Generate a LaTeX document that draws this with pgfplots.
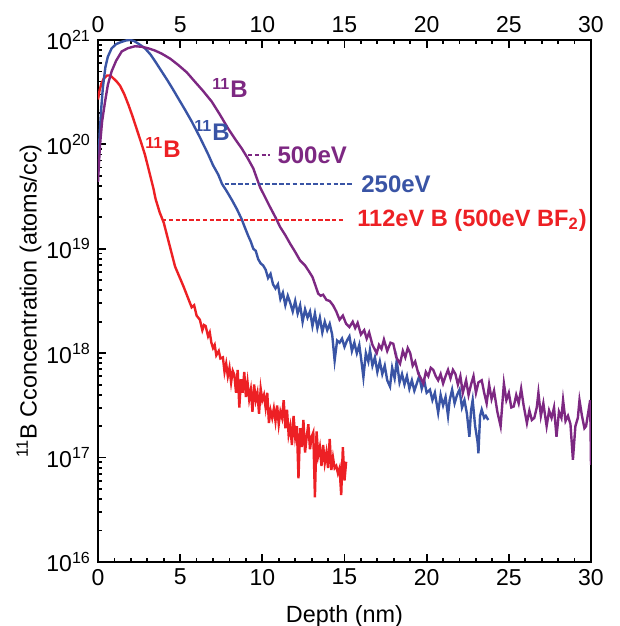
\documentclass[border=0pt]{standalone}
\usepackage{fontspec}
\setmainfont{Liberation Sans}
\usepackage{pgfplots}
\pgfplotsset{compat=1.18}

\definecolor{cred}{RGB}{237,32,36}
\definecolor{cblue}{RGB}{57,84,165}
\definecolor{cpurple}{RGB}{125,40,130}

\pgfplotstableread{
x y
0.0 2.69e20
0.1 3.31e20
0.2 3.80e20
0.35 4.27e20
0.55 4.57e20
0.75 4.57e20
0.95 4.27e20
1.15 3.98e20
1.35 3.63e20
1.6 3.02e20
1.85 2.40e20
2.1 1.86e20
2.35 1.41e20
2.6 1.07e20
2.86 7.94e19
3.1 5.62e19
3.37 3.80e19
3.5 3.02e19
3.75 2.24e19
4.0 1.78e19
4.28 1.20e19
4.69 6.76e18
5.2 4.37e18
5.5 3.31e18
5.7 2.75e18
5.85 2.88e18
6.0 2.29e18
6.2 2.09e18
6.35 1.66e18
6.45 1.86e18
6.55 1.82e18
6.7 1.45e18
6.8 1.58e18
6.9 1.26e18
7.0 1.12e18
7.1 1.20e18
7.2 9.55e17
7.35 1.05e18
7.45 8.91e17
7.6 9.12e17
7.7 6.61e17
7.8 7.94e17
7.9 6.03e17
8.0 7.24e17
8.1 5.25e17
8.2 6.76e17
8.3 6.17e17
8.4 4.17e17
8.5 6.92e17
8.6 3.02e17
8.7 5.62e17
8.8 4.17e17
8.9 6.61e17
9.0 3.80e17
9.1 5.25e17
9.2 3.63e17
9.3 4.47e17
9.4 2.75e17
9.5 5.01e17
9.6 3.55e17
9.7 4.17e17
9.8 2.63e17
9.9 4.57e17
10.0 3.55e17
10.1 3.98e17
10.2 3.02e17
10.3 4.17e17
10.4 2.14e17
10.5 2.82e17
10.6 2.40e17
10.7 2.95e17
10.8 2.24e17
10.9 3.16e17
11.0 2.09e17
11.1 2.75e17
11.2 2.40e17
11.3 3.55e17
11.4 1.91e17
11.5 2.88e17
11.6 1.66e17
11.7 2.00e17
11.8 1.32e17
11.9 2.51e17
12.0 1.58e17
12.1 2.00e17
12.2 6.31e16
12.3 1.91e17
12.4 1.26e17
12.5 2.29e17
12.6 1.12e17
12.7 1.58e17
12.8 2.09e17
12.9 1.20e17
13.0 1.58e17
13.1 1.74e17
13.2 4.17e16
13.3 1.78e17
13.4 1.05e17
13.5 1.26e17
13.6 8.32e16
13.7 1.32e17
13.8 8.91e16
13.9 1.12e17
14.0 7.94e16
14.1 1.51e17
14.2 7.59e16
14.3 1.00e17
14.4 7.94e16
14.5 8.32e16
14.6 7.08e16
14.7 7.94e16
14.8 4.37e16
14.9 1.26e17
15.0 6.03e16
15.1 9.12e16
}\redtab

\pgfplotstableread{
x y
0.0 5.25e19
0.1 1.26e20
0.2 2.24e20
0.3 3.55e20
0.45 5.50e20
0.6 6.92e20
0.83 8.32e20
1.1 9.12e20
1.4 9.55e20
1.7 9.89e20
1.95 1.00e21
2.2 9.77e20
2.5 9.12e20
2.86 8.32e20
3.2 7.24e20
3.5 6.17e20
3.87 5.01e20
4.2 4.17e20
4.55 3.39e20
4.89 2.75e20
5.3 2.14e20
5.7 1.66e20
6.2 1.17e20
6.72 7.94e19
7.0 6.31e19
7.32 5.13e19
7.55 4.17e19
7.8 3.63e19
8.14 2.95e19
8.45 2.40e19
8.75 1.91e19
8.95 1.58e19
9.15 1.32e19
9.3 1.17e19
9.45 1.00e19
9.6 9.55e18
9.75 7.94e18
9.9 7.24e18
10.05 6.92e18
10.2 6.31e18
10.35 5.25e18
10.5 5.75e18
10.65 4.57e18
10.8 4.17e18
10.95 4.57e18
11.1 3.31e18
11.25 3.80e18
11.4 2.88e18
11.55 3.55e18
11.7 3.02e18
11.85 2.51e18
12.0 3.16e18
12.15 2.40e18
12.3 2.88e18
12.45 2.00e18
12.6 2.63e18
12.75 2.19e18
12.9 2.51e18
13.05 1.82e18
13.2 2.40e18
13.35 1.74e18
13.5 2.19e18
13.65 1.58e18
13.8 2.00e18
13.95 1.66e18
14.1 1.91e18
14.25 1.51e18
14.4 8.51e17
14.55 1.32e18
14.7 1.26e18
14.85 1.38e18
15.0 1.15e18
15.15 1.32e18
15.3 1.45e18
15.45 1.05e18
15.6 1.26e18
15.75 1.00e18
15.9 1.20e18
16.05 7.94e17
16.15 5.89e17
16.3 1.00e18
16.45 8.32e17
16.55 1.07e18
16.7 7.59e17
16.85 9.12e17
17.0 6.61e17
17.15 8.32e17
17.3 6.31e17
17.45 7.59e17
17.6 5.50e17
17.77 4.79e17
17.9 7.24e17
18.05 5.75e17
18.18 8.51e17
18.35 5.25e17
18.5 6.31e17
18.65 5.01e17
18.8 6.03e17
18.95 4.57e17
19.1 5.50e17
19.25 4.37e17
19.4 5.13e17
19.55 6.03e17
19.7 4.57e17
19.85 5.50e17
20.0 4.17e17
20.2 4.47e17
20.35 3.55e17
20.5 4.17e17
20.7 2.69e17
20.85 3.98e17
21.0 3.16e17
21.15 3.80e17
21.3 2.51e17
21.4 3.55e17
21.55 4.47e17
21.7 3.31e17
21.85 3.98e17
22.0 4.47e17
22.15 3.02e17
22.3 3.55e17
22.45 2.63e17
22.6 1.58e17
22.7 2.82e17
22.8 3.55e17
22.95 2.00e17
23.1 1.41e17
23.15 1.10e17
23.25 2.51e17
23.35 2.88e17
23.5 2.40e17
23.6 2.51e17
23.75 2.29e17
}\bluetab

\pgfplotstableread{
x y
0.0 4.37e19
0.06 6.61e19
0.12 9.77e19
0.25 1.66e20
0.43 2.57e20
0.6 3.72e20
0.83 5.01e20
1.1 6.31e20
1.44 7.76e20
1.8 8.32e20
2.25 8.71e20
2.65 8.61e20
3.06 8.32e20
3.45 7.94e20
3.87 7.41e20
4.4 6.61e20
4.89 5.75e20
5.4 4.90e20
5.9 3.98e20
6.4 3.24e20
6.92 2.57e20
7.4 1.95e20
7.93 1.41e20
8.35 1.12e20
8.75 9.12e19
9.1 7.41e19
9.45 5.89e19
9.86 3.89e19
10.15 3.16e19
10.47 2.51e19
10.8 2.00e19
11.08 1.62e19
11.4 1.35e19
11.69 1.12e19
12.0 9.33e18
12.29 7.76e18
12.6 6.92e18
12.85 6.03e18
13.05 5.37e18
13.25 4.37e18
13.4 3.72e18
13.55 3.55e18
13.7 3.63e18
13.9 3.24e18
14.1 3.16e18
14.3 2.88e18
14.5 2.51e18
14.7 2.09e18
14.9 2.29e18
15.1 1.91e18
15.3 1.78e18
15.5 2.00e18
15.65 1.74e18
15.8 1.95e18
16.0 1.51e18
16.2 1.66e18
16.35 1.38e18
16.5 1.58e18
16.7 1.20e18
16.96 1.00e18
17.1 1.20e18
17.25 1.10e18
17.4 1.35e18
17.6 1.05e18
17.8 1.26e18
17.97 1.23e18
18.15 9.12e17
18.38 7.94e17
18.55 1.05e18
18.7 9.12e17
18.85 1.12e18
19.0 1.00e18
19.15 7.59e17
19.3 8.32e17
19.5 6.31e17
19.65 5.75e17
19.8 5.13e17
19.95 6.61e17
20.1 6.03e17
20.25 7.24e17
20.4 6.92e17
20.55 6.03e17
20.7 5.50e17
20.85 6.31e17
21.0 5.13e17
21.15 6.03e17
21.3 6.92e17
21.45 5.75e17
21.6 6.92e17
21.75 6.31e17
21.9 5.01e17
22.05 6.03e17
22.2 4.17e17
22.4 5.50e17
22.55 3.98e17
22.7 5.01e17
22.85 6.03e17
23.0 4.17e17
23.15 5.25e17
23.35 5.50e17
23.5 4.17e17
23.65 3.31e17
23.8 5.01e17
23.95 3.63e17
24.1 4.37e17
24.3 2.75e17
24.5 2.00e17
24.7 5.13e17
24.85 3.55e17
25.0 4.17e17
25.15 3.02e17
25.3 3.09e17
25.45 3.98e17
25.6 3.31e17
25.75 4.57e17
25.9 3.16e17
26.1 2.14e17
26.25 2.82e17
26.4 2.29e17
26.55 2.40e17
26.7 3.02e17
26.8 4.17e17
26.95 2.51e17
27.1 3.31e17
27.3 2.00e17
27.45 2.82e17
27.6 2.40e17
27.75 3.02e17
27.9 1.58e17
28.05 2.75e17
28.2 2.40e17
28.3 3.55e17
28.45 2.24e17
28.6 2.51e17
28.75 2.09e17
28.9 9.55e16
29.05 2.00e17
29.2 2.40e17
29.3 3.55e17
29.45 2.51e17
29.6 1.91e17
29.7 2.00e17
29.85 2.82e17
29.95 3.55e17
30.0 8.51e16
}\purpletab

\begin{document}
\begin{tikzpicture}
  \pgfplotsset{
    every tick label/.append style={font=\fontsize{11.5}{13}\selectfont},
    /pgf/number format/assume math mode=true,
  }
  \begin{axis}[
      name=main,
      at={(0,0)}, anchor=south west,
      scale only axis,
      width=246.5pt, height=261pt,
      ymode=log,
      xmin=0, xmax=30, ymin=1e16, ymax=1e21,
      xtick={0,5,...,30},
      minor x tick num=4,
      xtick pos=both, xticklabel pos=left,
      ytick pos=left,
      ytick={1e16,1e17,1e18,1e19,1e20,1e21},
      yticklabels={10\textsuperscript{16},10\textsuperscript{17},10\textsuperscript{18},10\textsuperscript{19},10\textsuperscript{20},10\textsuperscript{21}},
      tick align=inside,
      major tick length=3.8pt, minor tick length=2.2pt,
      every tick/.style={black, line width=0.9pt},
      axis line style={line width=1.1pt},
      xlabel={Depth (nm)},
      ylabel={\textsuperscript{11}B Cconcentration (atoms/cc)},
      label style={font=\fontsize{11.7}{14}\selectfont},
      x label style={at={(axis description cs:0.5,-0.104)}, anchor=center},
      y label style={at={(axis description cs:-0.14,0.5)}, anchor=center},
      clip=true,
    ]
    \addplot[cred, line width=1.2pt] table[x=x, y=y] {\redtab};
    \addplot[cblue, line width=1.2pt] table[x=x, y=y] {\bluetab};
    \addplot[cpurple, line width=1.2pt] table[x=x, y=y] {\purpletab};

    % annotations
    \node[cpurple, font=\bfseries\fontsize{12}{14}\selectfont] at (axis cs:8.03,3.47e20) {\textsuperscript{11}B};
    \node[cblue, font=\bfseries\fontsize{12}{14}\selectfont] at (axis cs:6.94,1.35e20) {\textsuperscript{11}B};
    \node[cred, font=\bfseries\fontsize{12}{14}\selectfont] at (axis cs:3.96,9.3e19) {\textsuperscript{11}B};

    \draw[cpurple, line width=0.8pt, dash pattern=on 2.2pt off 1.2pt] (axis cs:9.13,7.94e19) -- (axis cs:10.47,7.94e19);
    \node[cpurple, anchor=west, inner sep=0pt, font=\bfseries\fontsize{12}{14}\selectfont] at (axis cs:10.9,7.94e19) {500eV};
    \draw[cblue, line width=0.8pt, dash pattern=on 2.2pt off 1.2pt] (axis cs:7.71,4.17e19) -- (axis cs:15.44,4.17e19);
    \node[cblue, anchor=west, inner sep=0pt, font=\bfseries\fontsize{12}{14}\selectfont] at (axis cs:16.0,4.17e19) {250eV};
    \draw[cred, line width=0.8pt, dash pattern=on 2.2pt off 1.2pt] (axis cs:3.90,1.89e19) -- (axis cs:15.03,1.89e19);
    \node[cred, anchor=west, inner sep=0pt, font=\bfseries\fontsize{11.8}{14}\selectfont] at (axis cs:15.76,1.89e19) {112eV B (500eV BF\textsubscript{2})};
  \end{axis}
  \begin{axis}[
      at={(0,0)}, anchor=south west,
      scale only axis,
      width=246.5pt, height=261pt,
      xmin=0, xmax=30, ymin=0, ymax=1,
      axis x line*=top,
      axis y line=none,
      xtick={0,5,...,30},
      major tick length=0pt,
      xticklabel pos=right,
      axis line style={draw=none},
    ]
  \end{axis}
  \pgfresetboundingbox
  \path[use as bounding box] (-49pt,-32pt) rectangle (261pt,281pt);
\end{tikzpicture}
\end{document}
